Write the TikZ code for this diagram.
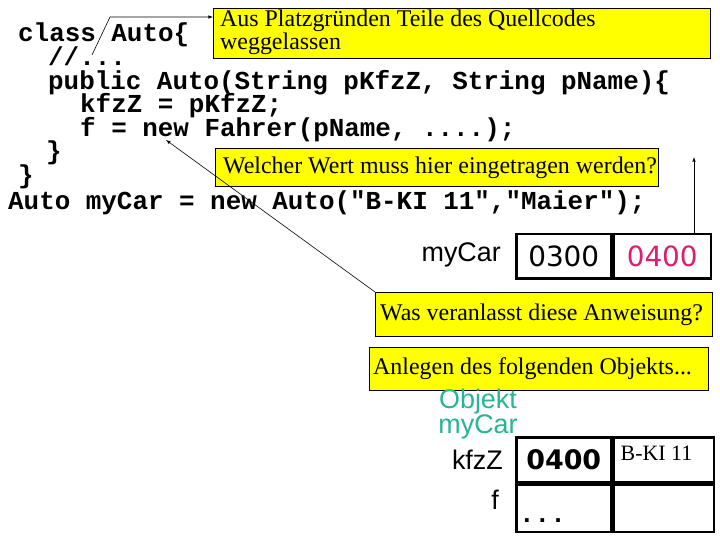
\documentclass[tikz,border=0pt]{standalone}
\usepackage{fontspec}
\setmainfont{Liberation Serif}
\setsansfont{Liberation Sans}
\setmonofont{Liberation Mono}
\newfontfamily\cellfont{DejaVu Sans}
\usetikzlibrary{calc,positioning}
\definecolor{hint}{RGB}{255,255,0}
\definecolor{pinkval}{RGB}{220,30,110}
\definecolor{tealtxt}{RGB}{40,180,150}

\tikzset{
  code/.style={anchor=base west,inner sep=0,font=\fontsize{26}{26}\ttfamily\bfseries},
  hintbox/.style={draw,semithick,fill=hint,anchor=north west,inner sep=0},
  hinttxt/.style={anchor=west,inner sep=0,font=\fontsize{24}{20}\rmfamily,align=left},
  var/.style={anchor=east,inner sep=0,font=\fontsize{27}{27}\sffamily},
  cell/.style={draw,line width=2.5bp,minimum height=44bp,inner sep=0},
  celltxt/.style={font=\cellfont\fontsize{28}{28}\selectfont}
}

\begin{document}
\begin{tikzpicture}[x=1bp,y=-1bp,>=latex]
  \useasboundingbox (0,0) rectangle (720,540);

  % source code
  \node[code] (l1) at (18,42) {class Auto\{};
  \node[code] (l2) at (48,66) {//...};
  \node[code] (l3) at (48,90) {public Auto(String pKfzZ, String pName)\{};
  \node[code] (l4) at (80,113) {kfzZ = pKfzZ;};
  \node[code] (l5) at (80,137) {f = new Fahrer(pName, ....);};
  \node[code] (l6) at (46,160) {\}};
  \node[code] (l7) at (18,184) {\}};
  \node[code] (l8) at (8,210) {Auto myCar = new Auto("B-KI 11","Maier");};

  % yellow hints
  \node[hintbox,minimum width=497bp,minimum height=50bp] (h1) at (213,8) {};
  \node[hinttxt] at ($(h1.west)+(7,-1)$) {Aus Platzgründen Teile des Quellcodes\\weggelassen};
  \node[hintbox,minimum width=443bp,minimum height=38bp] (h2) at (215,148) {};
  \node[hinttxt] at ($(h2.west)+(8,0)$) {Welcher Wert muss hier eingetragen werden?};
  \node[hintbox,minimum width=337bp,minimum height=44bp] (h3) at (375,292) {};
  \node[hinttxt] at ($(h3.west)+(5,0)$) {Was veranlasst diese Anweisung?};
  \node[hintbox,minimum width=339bp,minimum height=43bp] (h4) at (369,347) {};
  \node[hinttxt] at ($(h4.west)+(4,0)$) {Anlegen des folgenden Objekts...};

  % reference variable
  \node[cell,minimum width=95bp,anchor=north west] (ref1) at (515,233) {\cellfont\fontsize{28}{28}\selectfont 0300};
  \node[cell,minimum width=97bp,anchor=west] (ref2) at (ref1.east) {\cellfont\fontsize{28}{28}\selectfont\color{pinkval}0400};
  \node[var] (myCar) at (501,255) {myCar};

  % object
  \node[anchor=center,align=center,inner sep=0,font=\fontsize{27}{25}\sffamily,text=tealtxt] (objlbl) at (478,414) {Objekt\\myCar};
  \node[cell,minimum width=95bp,minimum height=45bp,anchor=north west] (o1) at (515,436) {\cellfont\bfseries\fontsize{27}{27}\selectfont 0400};
  \node[cell,minimum width=100bp,minimum height=45bp,anchor=west] (o2) at (o1.east) {};
  \node[cell,minimum width=95bp,minimum height=47bp,anchor=north] (o3) at (o1.south) {};
  \node[cell,minimum width=100bp,minimum height=47bp,anchor=north] (o4) at (o2.south) {};
  \node[anchor=north west,inner sep=0,font=\fontsize{22}{22}\rmfamily] (plate) at ($(o2.north west)+(8,10)$) {B-KI 11};
  \node[anchor=base west,inner sep=0,font=\fontsize{26}{26}\ttfamily\bfseries] (dots) at ($(o3.west)+(4,14)$) {...};
  \node[var] (kfz) at (503,460) {kfzZ};
  \node[var] (fvar) at (499,500) {f};

  % connectors
  \coordinate (c1) at (92,55);
  \coordinate (c1b) at (110,17);
  \draw[semithick,->] (c1) -- (c1b) -- (h1.west |- c1b);
  \draw[semithick,->] (h3.north west) -- (166,140);
  \coordinate (c3) at (694,233);
  \draw[semithick,->] (c3) -- (694,157);
\end{tikzpicture}
\end{document}
